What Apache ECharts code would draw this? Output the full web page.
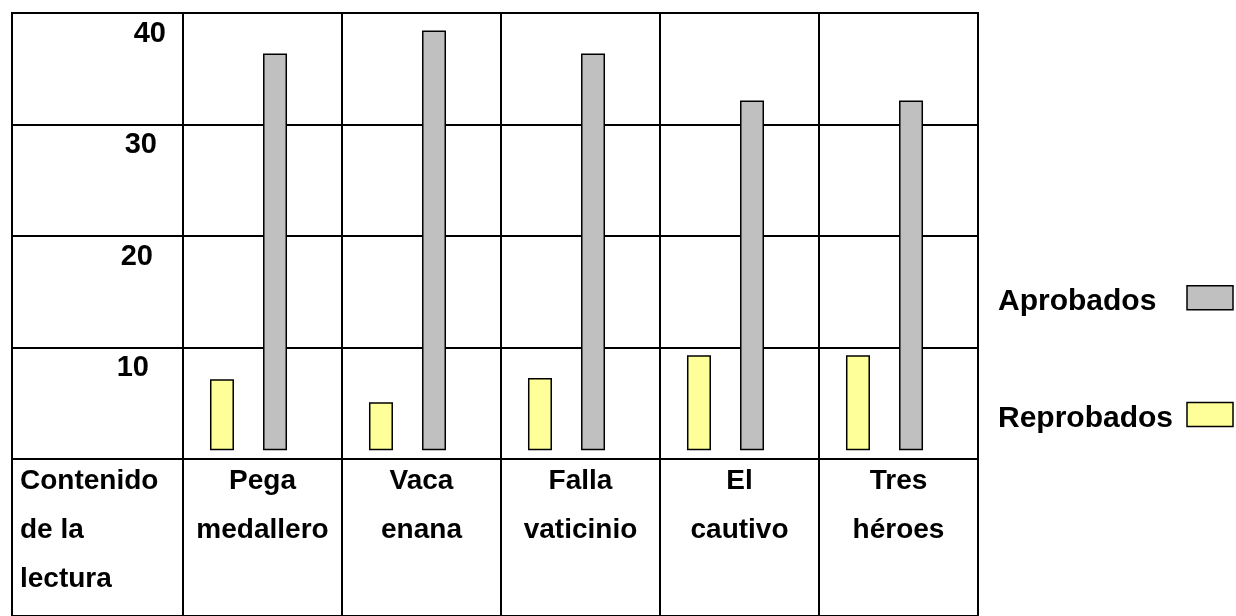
<!DOCTYPE html>
<html>
<head>
<meta charset="utf-8">
<style>
  html, body { margin: 0; padding: 0; background: #fff; }
  #chart { width: 1236px; height: 616px; }
</style>
<script src="https://cdn.jsdelivr.net/npm/echarts@6/dist/echarts.min.js"></script>
</head>
<body>
<div id="chart"></div>
<script>
const categories = ['Pega\nmedallero', 'Vaca\nenana', 'Falla\nvaticinio', 'El\ncautivo', 'Tres\nhéroes']
const aprobados = [36.3, 38.4, 36.3, 32, 32]
const reprobados = [6.5, 4.4, 6.6, 8.7, 8.7]
const yTicks = [10, 20, 30, 40]
const rowHeader = 'Contenido\nde la\nlectura'

const FONT = "'Liberation Sans', Arial, sans-serif"
const LINE = { color: '#000', width: 2 }
const txt = (size) => ({ fontSize: size, fontWeight: 'bold', fontFamily: FONT, color: '#000' })

// the tick numbers drift a little to the left going down
const tickShift = { 10: 17, 20: 13, 30: 9, 40: 0 }
const tickRich = {}
yTicks.forEach(t => {
  tickRich['t' + t] = { ...txt(29), padding: [0, tickShift[t], 0, 0] }
})

const chart = echarts.init(document.getElementById('chart'))

chart.setOption({
  animation: false,
  title: {
    text: rowHeader,
    left: 20,
    top: 457,
    padding: 0,
    textStyle: { ...txt(28), lineHeight: 49 }
  },
  legend: {
    data: ['Aprobados', 'Reprobados'],
    orient: 'vertical',
    align: 'right',
    left: 998,
    top: 285,
    padding: 0,
    itemWidth: 46,
    itemHeight: 24,
    itemGap: 85,
    icon: 'rect',
    itemStyle: { borderColor: '#000', borderWidth: 1.5 },
    formatter: '{n|{name}}',
    textStyle: { ...txt(30), rich: { n: { ...txt(30), width: 184, align: 'left', padding: [8, 0, 0, 0] } } }
  },
  grid: [
    // value rows, full table width
    { left: 12, right: 258, top: 13, bottom: 157, show: true, borderColor: '#000', borderWidth: 2 },
    // reading columns, down to the bottom edge
    { left: 183, right: 258, top: 13, bottom: -5, show: true, borderColor: '#000', borderWidth: 2 },
    // header cell bottom-left
    { left: 12, right: 1053, top: 459, bottom: -5, show: true, borderColor: '#000', borderWidth: 2 },
    // bars
    { left: 169, right: 272, top: 13, bottom: 157 }
  ],
  xAxis: [
    { gridIndex: 0, type: 'value', show: false },
    {
      gridIndex: 1,
      type: 'category',
      data: categories,
      offset: -162,
      axisLine: { show: false },
      axisTick: { show: false },
      splitLine: { show: true, lineStyle: LINE },
      axisLabel: { ...txt(28), interval: 0, lineHeight: 49, margin: 3 }
    },
    { gridIndex: 2, type: 'value', show: false },
    { gridIndex: 3, type: 'category', data: categories, show: false }
  ],
  yAxis: [
    {
      gridIndex: 0,
      type: 'value',
      min: 0,
      max: 40,
      interval: 10,
      axisLine: { show: false },
      axisTick: { show: false },
      axisLabel: { show: false },
      splitLine: { show: true, lineStyle: LINE }
    },
    { gridIndex: 1, type: 'value', show: false },
    { gridIndex: 2, type: 'value', show: false },
    {
      gridIndex: 3,
      type: 'value',
      min: 0,
      max: 40,
      interval: 10,
      axisLine: { show: false },
      axisTick: { show: false },
      splitLine: { show: false },
      axisLabel: {
        margin: 3,
        verticalAlign: 'top',
        padding: [6, 0, 0, 0],
        formatter: v => (yTicks.includes(v) ? `{t${v}|${v}}` : ''),
        rich: tickRich
      }
    },
    { gridIndex: 3, type: 'value', min: -0.8, max: 40, show: false }
  ],
  series: [
    {
      name: 'Reprobados',
      type: 'bar',
      xAxisIndex: 3,
      yAxisIndex: 4,
      data: reprobados,
      barWidth: 24,
      barGap: '121%',
      itemStyle: { color: '#ffff99', borderColor: '#000', borderWidth: 1.5 }
    },
    {
      name: 'Aprobados',
      type: 'bar',
      xAxisIndex: 3,
      yAxisIndex: 4,
      data: aprobados,
      barWidth: 24,
      barGap: '121%',
      itemStyle: { color: '#c0c0c0', borderColor: '#000', borderWidth: 1.5 }
    }
  ]
})

window.addEventListener('resize', () => chart.resize())
</script>
</body>
</html>
